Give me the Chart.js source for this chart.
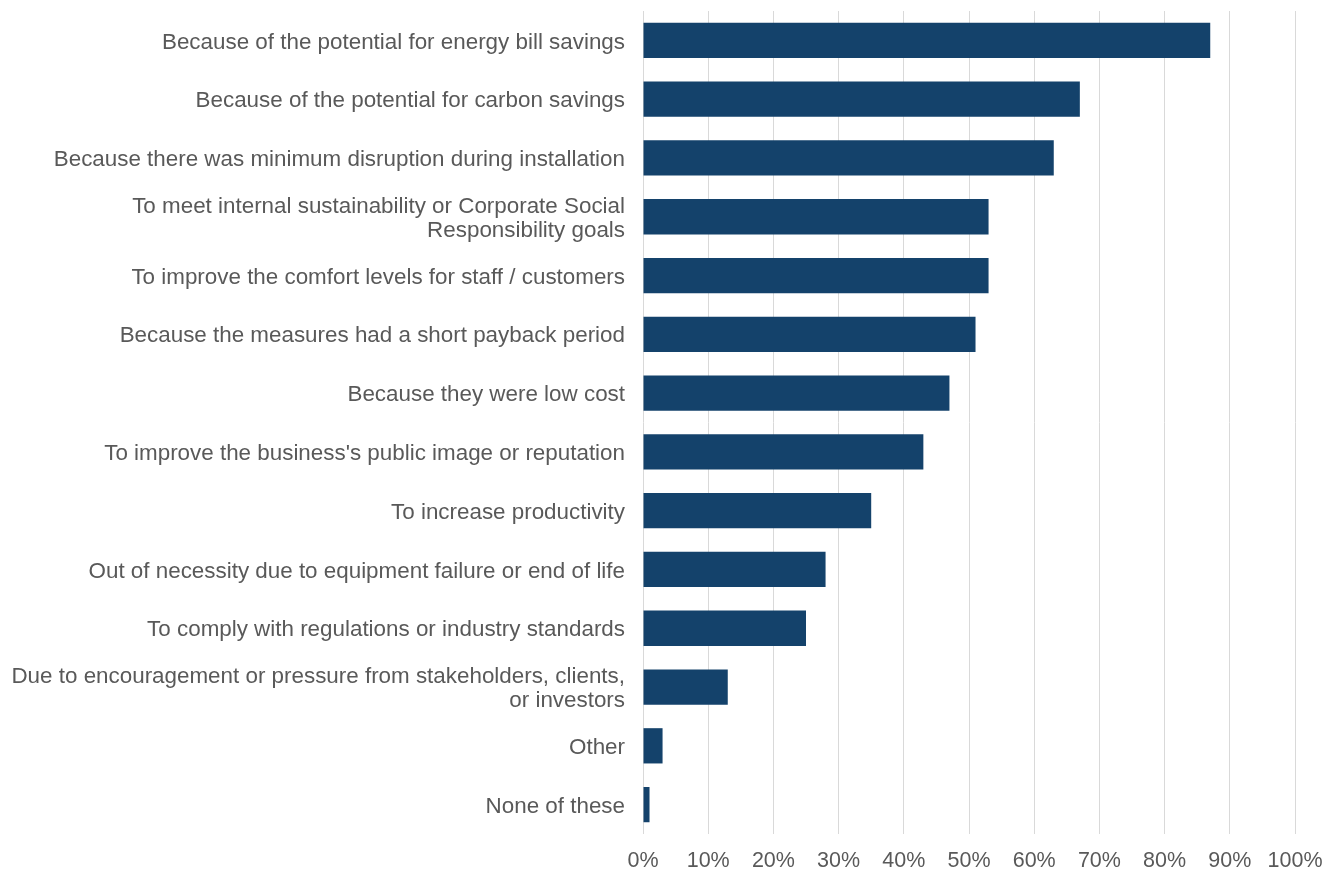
<!DOCTYPE html>
<html lang="en">
<head>
  <meta charset="UTF-8" />
  <title>Reasons for installing measures</title>
  <style>
    body {
      margin: 0;
      padding: 0;
      background: white;
    }

    .chart-box {
      width: 1336px;
      height: 871px;
      position: relative;
    }
  </style>
</head>
<body>

<div class="chart-box">
  <canvas id="reasonsChart"></canvas>
</div>

<script src="https://cdn.jsdelivr.net/npm/chart.js"></script>
<script>
const reasons = [
  'Because of the potential for energy bill savings',
  'Because of the potential for carbon savings',
  'Because there was minimum disruption during installation',
  ['To meet internal sustainability or Corporate Social', 'Responsibility goals'],
  'To improve the comfort levels for staff / customers',
  'Because the measures had a short payback period',
  'Because they were low cost',
  "To improve the business's public image or reputation",
  'To increase productivity',
  'Out of necessity due to equipment failure or end of life',
  'To comply with regulations or industry standards',
  ['Due to encouragement or pressure from stakeholders, clients,', 'or investors'],
  'Other',
  'None of these'
];

const shares = [87, 67, 63, 53, 53, 51, 47, 43, 35, 28, 25, 13, 3, 1];

const percentTicks = [0, 10, 20, 30, 40, 50, 60, 70, 80, 90, 100];

const fontFamily = 'Arial, "Liberation Sans", sans-serif';

new Chart(document.getElementById('reasonsChart'), {
  type: 'bar',
  data: {
    labels: reasons,
    datasets: [{
      data: shares,
      backgroundColor: '#14426b',
      borderWidth: 0,
      barPercentage: 0.6,
      categoryPercentage: 1
    }]
  },
  options: {
    indexAxis: 'y',
    responsive: true,
    maintainAspectRatio: false,
    animation: false,
    layout: {
      padding: { top: 11, right: 41, bottom: 0, left: 0 }
    },
    scales: {
      x: {
        min: 0,
        max: 100,
        afterBuildTicks: axis => {
          axis.ticks = percentTicks.map(v => ({ value: v }));
        },
        afterFit: axis => {
          axis.height = 37;
          axis.paddingLeft = 0;
          axis.paddingRight = 0;
        },
        ticks: {
          callback: v => v + '%',
          color: '#595959',
          font: { family: fontFamily, size: 21.5 },
          padding: 14
        },
        grid: {
          color: '#d9d9d9',
          lineWidth: 1,
          drawTicks: false
        },
        border: { display: false }
      },
      y: {
        afterFit: axis => {
          axis.width = 643;
          axis.paddingTop = 0;
          axis.paddingBottom = 0;
        },
        ticks: {
          color: '#595959',
          font: { family: fontFamily, size: 22.4, lineHeight: 1.08 },
          padding: 10,
          labelOffset: 2,
          autoSkip: false
        },
        grid: { display: false },
        border: { display: false }
      }
    },
    plugins: {
      legend: { display: false },
      tooltip: { enabled: false }
    }
  }
});
</script>
</body>
</html>
